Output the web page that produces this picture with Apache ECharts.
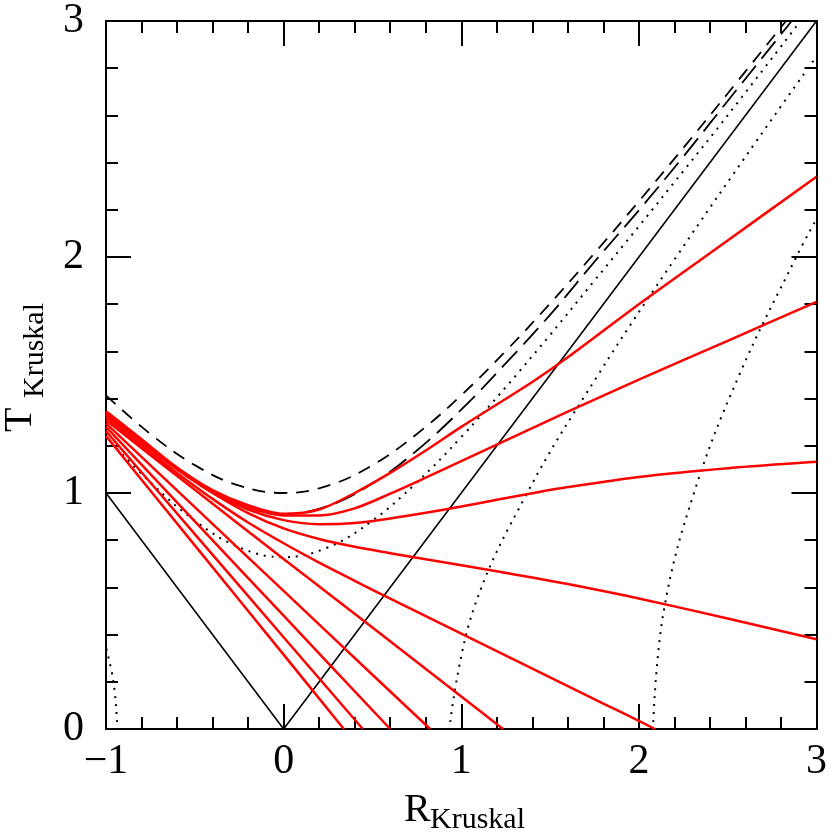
<!DOCTYPE html>
<html>
<head>
<meta charset="utf-8">
<title>Kruskal slices</title>
<script src="https://cdn.jsdelivr.net/npm/echarts@6/dist/echarts.min.js"></script>
<style>
  html, body { margin: 0; padding: 0; background: #fff; }
  #chart { width: 830px; height: 837px; }
</style>
</head>
<body>
<div id="chart"></div>
<script>
// axis ranges / ticks
const xRange = [-1, 3];
const yRange = [0, 3];

// red slices, read on a common R grid (upper four reach the right edge)
const sliceR = [-1, -0.8, -0.6, -0.4, -0.2, 0, 0.2, 0.4, 0.6, 0.8, 1.0, 1.2, 1.4, 1.6, 2.0, 2.5, 3.0];
const slice10 = [1.347, 1.228, 1.108, 1.012, 0.948, 0.912, 0.930, 1.000, 1.085, 1.180, 1.280, 1.375, 1.470, 1.575, 1.800, 2.070, 2.340];
const slice9 = [1.343, 1.225, 1.105, 1.008, 0.940, 0.905, 0.905, 0.935, 0.997, 1.065, 1.135, 1.205, 1.275, 1.345, 1.480, 1.645, 1.810];
const slice8 = [1.338, 1.220, 1.105, 1.003, 0.930, 0.885, 0.868, 0.873, 0.892, 0.916, 0.943, 0.971, 0.999, 1.025, 1.068, 1.105, 1.132];
const slice7 = [1.332, 1.212, 1.100, 1.000, 0.915, 0.850, 0.805, 0.772, 0.745, 0.719, 0.694, 0.668, 0.642, 0.614, 0.553, 0.468, 0.380];
// slices that run into T = 0
const slice6R = [-1, -0.8, -0.6, -0.4, -0.2, 0, 0.2, 0.4, 0.6, 0.8, 1.0, 1.2, 1.4, 1.6, 1.8, 2.0, 2.09];
const slice6 = [1.322, 1.200, 1.085, 0.975, 0.875, 0.787, 0.705, 0.628, 0.552, 0.478, 0.404, 0.330, 0.256, 0.182, 0.108, 0.034, 0];
const slice5R = [-1, -0.5, 0, 0.5, 1.0, 1.235];
const slice5 = [1.308, 1.014, 0.720, 0.430, 0.138, 0];
const slice4R = [-1, -0.5, 0, 0.5, 0.825];
const slice4 = [1.295, 0.940, 0.585, 0.230, 0];
const slice3R = [-1, -0.5, 0, 0.6];
const slice3 = [1.280, 0.880, 0.480, 0];
const slice2R = [-1, -0.5, 0, 0.446];
const slice2 = [1.262, 0.826, 0.389, 0];
const slice1R = [-1, -0.5, 0, 0.339];
const slice1 = [1.242, 0.778, 0.315, 0];

// black curves
const horizonR = [-1, 0, 3];
const horizonT = [1, 0, 3];
const singR = [-1, -0.75, -0.5, -0.25, 0, 0.25, 0.5, 0.75, 1, 1.25, 1.5, 1.75, 2, 2.25, 2.5, 2.828];
const singT = [1.414, 1.25, 1.118, 1.031, 1.0, 1.031, 1.118, 1.25, 1.414, 1.601, 1.803, 2.016, 2.236, 2.462, 2.693, 3.0];
const limitR = [-0.05, 0, 0.25, 0.5, 0.75, 1, 1.25, 1.5, 1.75, 2, 2.25, 2.5, 2.86];
const limitT = [0.912, 0.911, 0.945, 1.04, 1.18, 1.353, 1.549, 1.755, 1.98, 2.198, 2.425, 2.661, 3.0];
// dotted r = const curves
const inner15R = [-1, -0.75, -0.5, -0.25, 0, 0.25, 0.5, 0.75, 1, 1.25, 1.5, 1.75, 2, 2.25, 2.5, 2.91];
const inner15T = [1.237, 1.045, 0.883, 0.770, 0.728, 0.770, 0.883, 1.045, 1.237, 1.448, 1.67, 1.9, 2.13, 2.364, 2.6, 3.0];
const out25R = [0.938, 1.066, 1.371, 1.77, 2.21, 2.67, 3.0];
const out25T = [0.03, 0.5, 1, 1.5, 2, 2.5, 2.85];
const out25LeftR = [-0.938, -0.958, -1.0];
const out25LeftT = [0.03, 0.2, 0.346];
const out35R = [2.081, 2.14, 2.31, 2.565, 2.886, 3.0];
const out35T = [0.03, 0.5, 1, 1.5, 2, 2.161];

function pts(xs, ys) {
  return xs.map((x, i) => [x, ys[i]]);
}

const FONT = 'Liberation Serif';

function axisCommon(showLabel) {
  return {
    type: 'value',
    interval: 1,
    axisLine: { show: true, onZero: false, lineStyle: { color: '#000', width: 2 } },
    axisTick: { show: true, inside: true, length: 25, lineStyle: { color: '#000', width: 2 } },
    minorTick: { show: true, splitNumber: 5, length: 12, lineStyle: { color: '#000', width: 2 } },
    splitLine: { show: false },
    axisLabel: {
      show: showLabel,
      color: '#000',
      fontFamily: FONT,
      fontSize: 42,
      formatter: v => String(v).replace('-', '\u2212')
    }
  };
}

const xBottom = Object.assign(axisCommon(true), { min: xRange[0], max: xRange[1], position: 'bottom' });
xBottom.axisLabel.margin = 12;
const xTop = Object.assign(axisCommon(false), { min: xRange[0], max: xRange[1], position: 'top' });
const yLeft = Object.assign(axisCommon(true), { min: yRange[0], max: yRange[1], position: 'left' });
yLeft.axisLabel.margin = 22;
const yRight = Object.assign(axisCommon(false), { min: yRange[0], max: yRange[1], position: 'right' });

function line(data, color, width, type, smooth) {
  return {
    type: 'line',
    data: data,
    showSymbol: false,
    smooth: smooth,
    silent: true,
    lineStyle: { color: color, width: width, type: type }
  };
}

const RED = '#ff0000';
const series = [
  line(pts(horizonR, horizonT), '#000', 1.6, 'solid', false),
  line(pts(singR, singT), '#000', 1.8, [13, 9], 0.4),
  line(pts(limitR, limitT), '#000', 1.8, [22, 9], 0.4),
  line(pts(inner15R, inner15T), '#000', 2, [2, 6], 0.4),
  line(pts(out25R, out25T), '#000', 2, [2, 6], 0.4),
  line(pts(out25LeftR, out25LeftT), '#000', 2, [2, 6], 0.4),
  line(pts(out35R, out35T), '#000', 2, [2, 6], 0.4),
  line(pts(slice1R, slice1), RED, 2.5, 'solid', 0.3),
  line(pts(slice2R, slice2), RED, 2.5, 'solid', 0.3),
  line(pts(slice3R, slice3), RED, 2.5, 'solid', 0.3),
  line(pts(slice4R, slice4), RED, 2.5, 'solid', 0.3),
  line(pts(slice5R, slice5), RED, 2.5, 'solid', 0.3),
  line(pts(slice6R, slice6), RED, 2.5, 'solid', 0.3),
  line(pts(sliceR, slice7), RED, 2.5, 'solid', 0.3),
  line(pts(sliceR, slice8), RED, 2.5, 'solid', 0.3),
  line(pts(sliceR, slice9), RED, 2.5, 'solid', 0.3),
  line(pts(sliceR, slice10), RED, 2.5, 'solid', 0.3)
];

const chart = echarts.init(document.getElementById('chart'), null, { renderer: 'canvas' });
chart.setOption({
  animation: false,
  backgroundColor: '#fff',
  grid: { left: 106, right: 10, top: 15, bottom: 108, containLabel: false },
  xAxis: [xBottom, xTop],
  yAxis: [yLeft, yRight],
  series: series,
  graphic: [
    { type: 'text', left: 404, top: 790, style: { text: 'R', font: '40px ' + FONT, fill: '#000' } },
    { type: 'text', left: 430, top: 805, style: { text: 'Kruskal', font: '30px ' + FONT, fill: '#000' } },
    { type: 'text', x: 40, y: 432, rotation: Math.PI / 2,
      style: { text: 'T', font: '40px ' + FONT, fill: '#000', textAlign: 'left', textVerticalAlign: 'bottom' } },
    { type: 'text', x: 50, y: 398, rotation: Math.PI / 2,
      style: { text: 'Kruskal', font: '30px ' + FONT, fill: '#000', textAlign: 'left', textVerticalAlign: 'bottom' } }
  ]
});
</script>
</body>
</html>
